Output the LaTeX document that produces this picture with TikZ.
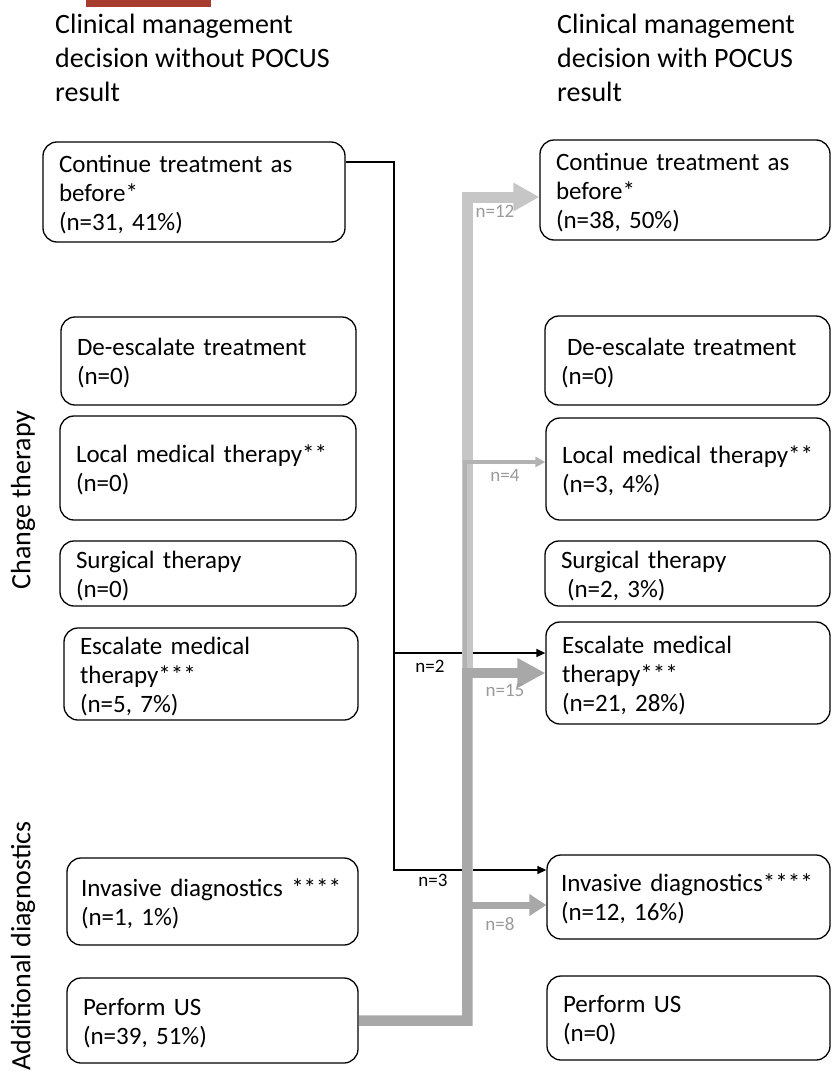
\documentclass[tikz,border=0pt]{standalone}
\usepackage{fontspec}
\setmainfont{Carlito}
\usepackage{tikz}
\usetikzlibrary{arrows.meta,positioning}
\setlength{\parindent}{0pt}
\definecolor{bar-red}{HTML}{A63D2E}
\definecolor{flow-light}{HTML}{C6C6C6}
\definecolor{flow-mid}{HTML}{B2B2B2}
\definecolor{flow-dark}{HTML}{A8A8A8}
\definecolor{flow-text}{HTML}{9A9A9A}
\newcommand{\boxfont}{\fontsize{25}{29}\selectfont}
\newcommand{\headfont}{\fontsize{28}{34}\selectfont}
\newcommand{\numfont}{\fontsize{19}{22}\selectfont}

\begin{document}
\begin{tikzpicture}[x=1pt, y=-1pt,
    box/.style={draw, rounded corners=14pt, line width=1.3pt, align=left,
        inner xsep=16pt, inner ysep=0pt, font=\boxfont,
        execute at begin node={\rule{0pt}{22pt}}},
    head/.style={align=left, inner sep=0pt, font=\headfont},
    numlab/.style={inner sep=0pt, font=\numfont},
    blackflow/.style={line width=1.4pt, -{Triangle[length=9pt,width=8pt]}}]
    \useasboundingbox (0,0) rectangle (831,1076);
    \fill[bar-red] (86,0) rectangle (211,7);
    % headings
    \node[head, anchor=north west] (T1) at (55,14) {Clinical management\\decision without POCUS\\result};
    \node[head, anchor=north west] (T2) at (557,14) {Clinical management\\decision with POCUS\\result};
    \node[head, rotate=90] (G1) at (23,500) {Change therapy};
    \node[head, rotate=90] (G2) at (23,946) {Additional diagnostics};
    % without POCUS
    \node[box, text width=270pt, minimum height=100pt] (L1) at (194,192) {Continue treatment as\\before*\\(n=31, 41\%)};
    \node[box, text width=263pt, minimum height=88pt] (L2) at (208.5,361) {De-escalate treatment\\(n=0)};
    \node[box, text width=264pt, minimum height=104pt] (L3) at (208,468) {Local medical therapy**\\(n=0)};
    \node[box, text width=264pt, minimum height=65pt] (L4) at (208,573.5) {Surgical therapy\\(n=0)};
    \node[box, text width=262pt, minimum height=92pt] (L5) at (211,674) {Escalate medical\\therapy***\\(n=5, 7\%)};
    \node[box, inner xsep=14pt, text width=263pt, minimum height=87pt] (L6) at (212.5,901.5) {Invasive diagnostics ****\\(n=1, 1\%)};
    \node[box, text width=259pt, minimum height=85pt] (L7) at (212.5,1020.5) {Perform US\\(n=39, 51\%)};
    % with POCUS
    \node[box, text width=258pt, minimum height=100pt] (R1) at (685,190) {Continue treatment as\\before*\\(n=38, 50\%)};
    \node[box, text width=253pt, minimum height=89pt] (R2) at (687.5,360.5) {\hspace*{6pt}De-escalate treatment\\(n=0)};
    \node[box, text width=252pt, minimum height=102pt] (R3) at (688,469) {Local medical therapy**\\(n=3, 4\%)};
    \node[box, text width=253pt, minimum height=65pt] (R4) at (687.5,573.5) {Surgical therapy\\\hspace*{6pt}(n=2, 3\%)};
    \node[box, text width=252pt, minimum height=102pt] (R5) at (688,673) {Escalate medical\\therapy***\\(n=21, 28\%)};
    \node[box, inner xsep=14pt, text width=255pt, minimum height=84pt] (R6) at (688.5,897) {Invasive diagnostics****\\(n=12, 16\%)};
    \node[box, text width=251pt, minimum height=84pt] (R7) at (688.5,1018) {Perform US\\(n=0)};
    % turning points
    \coordinate (b1) at (394,162);
    \coordinate (b2) at (394,653);
    \coordinate (b3) at (394,870);
    \coordinate (t12) at (467,197);
    \coordinate (t4) at (464.5,462);
    \coordinate (t15) at (467,673);
    \coordinate (t8) at (467,905);
    % black flows
    \draw[blackflow] (L1.east |- b1) -- (b1) -- (b3) -- (b3 -| R6.west);
    \draw[blackflow] (b2) -- (b2 -| R5.west);
    % grey flows
    \draw[flow-light, line width=11pt, -{Triangle[length=26pt,width=27pt]}] (L7.east) -| (t12) -- (t12 -| R1.west);
    \draw[flow-mid, line width=4pt, -{Triangle[length=10pt,width=10pt]}] (L7.east) -| (t4) -- (t4 -| R3.west);
    \draw[flow-dark, line width=10pt, -{Triangle[length=28pt,width=28pt]}] (L7.east) -| (t15) -- (t15 -| R5.west);
    \draw[flow-dark, line width=7pt, -{Triangle[length=17pt,width=21pt]}] (L7.east) -| (t8) -- (t8 -| R6.west);
    % counts
    \node[numlab, flow-text] (n12) at (495,211) {n=12};
    \node[numlab, flow-text] (n4) at (505,475) {n=4};
    \node[numlab] (n2) at (430,666) {n=2};
    \node[numlab, flow-text] (n15) at (505,690) {n=15};
    \node[numlab] (n3) at (433,880) {n=3};
    \node[numlab, flow-text] (n8) at (500,924) {n=8};
\end{tikzpicture}
\end{document}
